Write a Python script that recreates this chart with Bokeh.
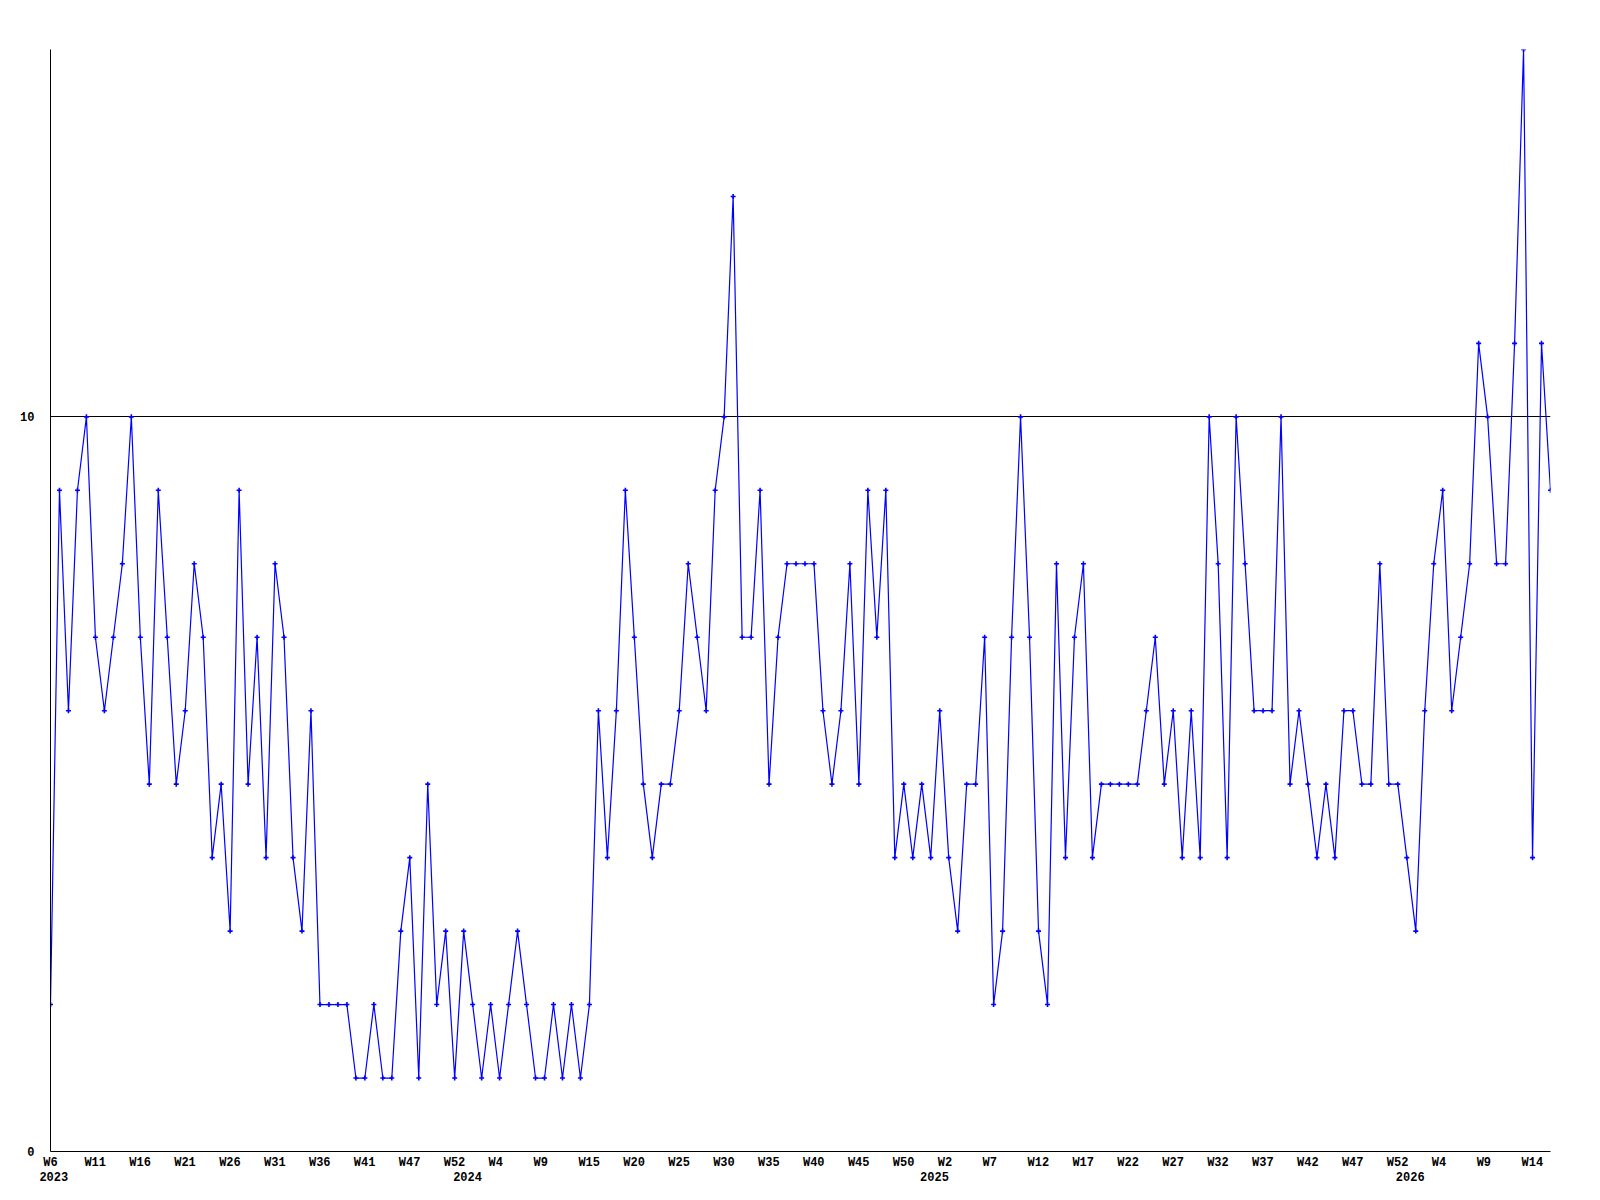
from bokeh.plotting import figure
from bokeh.models import Range1d, FixedTicker, LinearAxis
from bokeh.embed import file_html
from bokeh.resources import INLINE

# ---- data (weekly counts) ----
values_2023 = [2, 9, 6, 9, 10, 7, 6, 7, 8, 10, 7, 5, 9, 7, 5, 6, 8, 7, 4, 5, 3, 9, 5, 7, 4, 8, 7, 4, 3,
               6, 2, 2, 2, 2, 1, 1, 2, 1, 1, 3, 4, 1, 5, 2, 3, 1, 3]            # W6 .. W52
values_2024 = [2, 1, 2, 1, 2, 3, 2, 1, 1,
               2, 1, 2, 1, 2, 6, 4, 6, 9, 7, 5, 4, 5, 5, 6, 8, 7, 6, 9, 10, 13, 7, 7, 9, 5, 7, 8, 8, 8, 8,
               6, 5, 6, 8, 5, 9, 7, 9, 4, 5, 4, 5, 4]                             # W1 .. W52
values_2025 = [6, 4, 3, 5, 5, 7, 2, 3, 7, 10, 7, 3, 2, 8, 4, 7, 8,
               4, 5, 5, 5, 5, 5, 6, 7, 5, 6, 4, 6, 4, 10, 8, 4, 10, 8, 6, 6, 6, 10, 5, 6, 5, 4, 5, 4, 6,
               6, 5, 5, 8, 5, 5]                                                  # W1 .. W52
values_2026 = [4, 3, 6, 8, 9, 6, 7, 8, 11, 10, 8, 8, 11, 15, 4, 11, 9]            # W1 .. W17

week_tick_labels = ["W6", "W11", "W16", "W21", "W26", "W31", "W36", "W41", "W47", "W52",
                    "W4", "W9", "W15", "W20", "W25", "W30", "W35", "W40", "W45", "W50",
                    "W2", "W7", "W12", "W17", "W22", "W27", "W32", "W37", "W42", "W47", "W52",
                    "W4", "W9", "W14"]
year_labels = ["2023", "2024", "2025", "2026"]
y_tick_values = [0, 10]

values = values_2023 + values_2024 + values_2025 + values_2026
idx = list(range(len(values)))

FRAME_W, FRAME_H = 1500, 1102
PX = FRAME_W / (len(values) - 1)          # pixels per week
CHAR_W = 7.2                              # monospace advance at 12px
FONT = "Liberation Mono"

p = figure(frame_width=FRAME_W, frame_height=FRAME_H,
           x_range=Range1d(0, len(values) - 1), y_range=Range1d(0, 15),
           output_backend="svg", toolbar_location=None,
           min_border_left=50, min_border_right=20, min_border_top=49, min_border_bottom=5)
p.outline_line_color = None
p.background_fill_color = "white"
p.border_fill_color = "white"
p.xgrid.visible = False
p.ygrid.ticker = FixedTicker(ticks=[10])
p.ygrid.grid_line_color = "black"
p.ygrid.grid_line_width = 1
p.ygrid.grid_line_alpha = 1


def style_axis(ax):
    ax.major_tick_line_color = None
    ax.minor_tick_line_color = None
    ax.major_tick_out = 0
    ax.major_tick_in = 0
    ax.axis_line_color = "black"
    ax.axis_line_width = 1
    ax.major_label_text_font = FONT
    ax.major_label_text_font_style = "bold"
    ax.major_label_text_font_size = "12px"
    ax.major_label_text_color = "black"


# week axis: labels every 5 weeks of width, left edges 11px before first point
week_pos = []
for k, lab in enumerate(week_tick_labels):
    left_px = -11.0 + 5 * k * PX
    centre = (left_px + len(lab) * CHAR_W / 2) / PX
    week_pos.append(round(max(0.0, centre), 3))
xa = p.xaxis[0]
style_axis(xa)
xa.ticker = FixedTicker(ticks=week_pos)
xa.major_label_overrides = {pos: lab for pos, lab in zip(week_pos, week_tick_labels)}
xa.major_label_standoff = 4

# year axis below the week axis
year_pos = [0.37, 46.43, 98.42, 151.38]
ya2 = LinearAxis(ticker=FixedTicker(ticks=year_pos),
                 major_label_overrides={pos: lab for pos, lab in zip(year_pos, year_labels)})
style_axis(ya2)
ya2.axis_line_color = None
ya2.major_label_standoff = -1
p.add_layout(ya2, "below")

yax = p.yaxis[0]
style_axis(yax)
yax.ticker = FixedTicker(ticks=y_tick_values)
yax.major_label_overrides = {v: str(v) for v in y_tick_values}
yax.major_label_standoff = 16

p.line(idx, values, line_color="#0000ff", line_width=1.2)
p.scatter(idx, values, marker="cross", size=5, line_color="#0000ff", line_width=1.6)

open("out.html", "w").write(file_html(p, INLINE))
